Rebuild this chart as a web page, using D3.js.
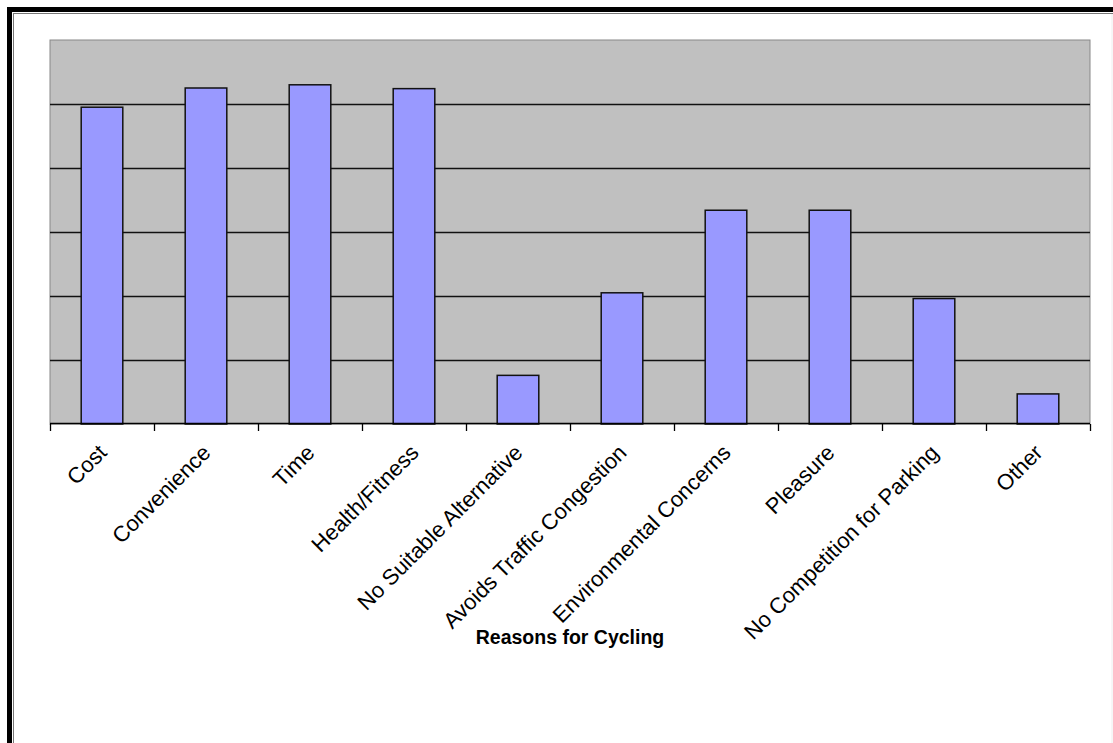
<!DOCTYPE html>
<html><head><meta charset="utf-8">
<script src="https://cdn.jsdelivr.net/npm/d3@7"></script>
<style>body{margin:0;background:#fff}svg{display:block}</style>
</head><body>
<script>
const categories = ["Cost","Convenience","Time","Health/Fitness","No Suitable Alternative","Avoids Traffic Congestion","Environmental Concerns","Pleasure","No Competition for Parking","Other"];
const values = [49.5, 52.5, 53.0, 52.4, 7.6, 20.5, 33.4, 33.4, 19.6, 4.7];
const gridTicks = [10, 20, 30, 40, 50, 60];
const xTitle = "Reasons for Cycling";

const W = 1113, H = 743;
const svg = d3.select("body").append("svg").attr("width", W).attr("height", H);

// frame
svg.append("rect").attr("x", 9.5).attr("y", 9.5).attr("width", W + 20).attr("height", H + 20)
  .attr("fill", "none").attr("stroke", "#000").attr("stroke-width", 5);
svg.append("rect").attr("x", 13.5).attr("y", 13.5).attr("width", W + 20).attr("height", H + 20)
  .attr("fill", "none").attr("stroke", "#777").attr("stroke-width", 1);
svg.append("line").attr("x1", W - 1).attr("x2", W - 1).attr("y1", 14).attr("y2", H)
  .attr("stroke", "#eee");

const L = 50, R = 1090, T = 40, B = 424;
const x = d3.scaleBand().domain(categories).range([L, R]).paddingInner(0.6).paddingOuter(0.3);
const xb = d3.scaleBand().domain(categories).range([L, R]).padding(0);
const y = d3.scaleLinear().domain([0, 60]).range([B, T]);

svg.append("rect").attr("x", L).attr("y", T).attr("width", R - L).attr("height", B - T)
  .attr("fill", "#c0c0c0").attr("stroke", "#888").attr("stroke-width", 1);

svg.append("g").selectAll("line").data(gridTicks.slice(0, -1)).join("line")
  .attr("x1", L).attr("x2", R).attr("y1", d => Math.round(y(d)) + 0.5).attr("y2", d => Math.round(y(d)) + 0.5)
  .attr("stroke", "#111").attr("stroke-width", 1.3);

svg.append("g").selectAll("rect").data(values).join("rect")
  .attr("x", (d, i) => x(categories[i]))
  .attr("width", x.bandwidth())
  .attr("y", d => y(d))
  .attr("height", d => B - y(d))
  .attr("fill", "#9999ff").attr("stroke", "#111").attr("stroke-width", 1.5);

// x axis line and ticks
const tickPos = categories.map(c => xb(c)).concat([R]);
svg.append("line").attr("x1", L).attr("x2", R).attr("y1", B - 0.5).attr("y2", B - 0.5)
  .attr("stroke", "#000").attr("stroke-width", 1.5);
svg.append("g").selectAll("line").data(tickPos).join("line")
  .attr("x1", d => Math.round(d) + 0.5).attr("x2", d => Math.round(d) + 0.5)
  .attr("y1", B).attr("y2", B + 7).attr("stroke", "#000").attr("stroke-width", 1.3);

svg.append("g").selectAll("text").data(categories).join("text")
  .attr("transform", c => `translate(${xb(c) + xb.bandwidth() / 2 + 6},${B + 30}) rotate(-45)`)
  .attr("text-anchor", "end")
  .attr("font-family", "Liberation Sans, Arial, sans-serif")
  .attr("font-size", 22)
  .attr("fill", "#000")
  .text(c => c);

svg.append("text").attr("x", (L + R) / 2).attr("y", 644)
  .attr("text-anchor", "middle")
  .attr("font-family", "Liberation Sans, Arial, sans-serif")
  .attr("font-weight", "bold").attr("font-size", 19.5)
  .text(xTitle);
</script>
</body></html>
